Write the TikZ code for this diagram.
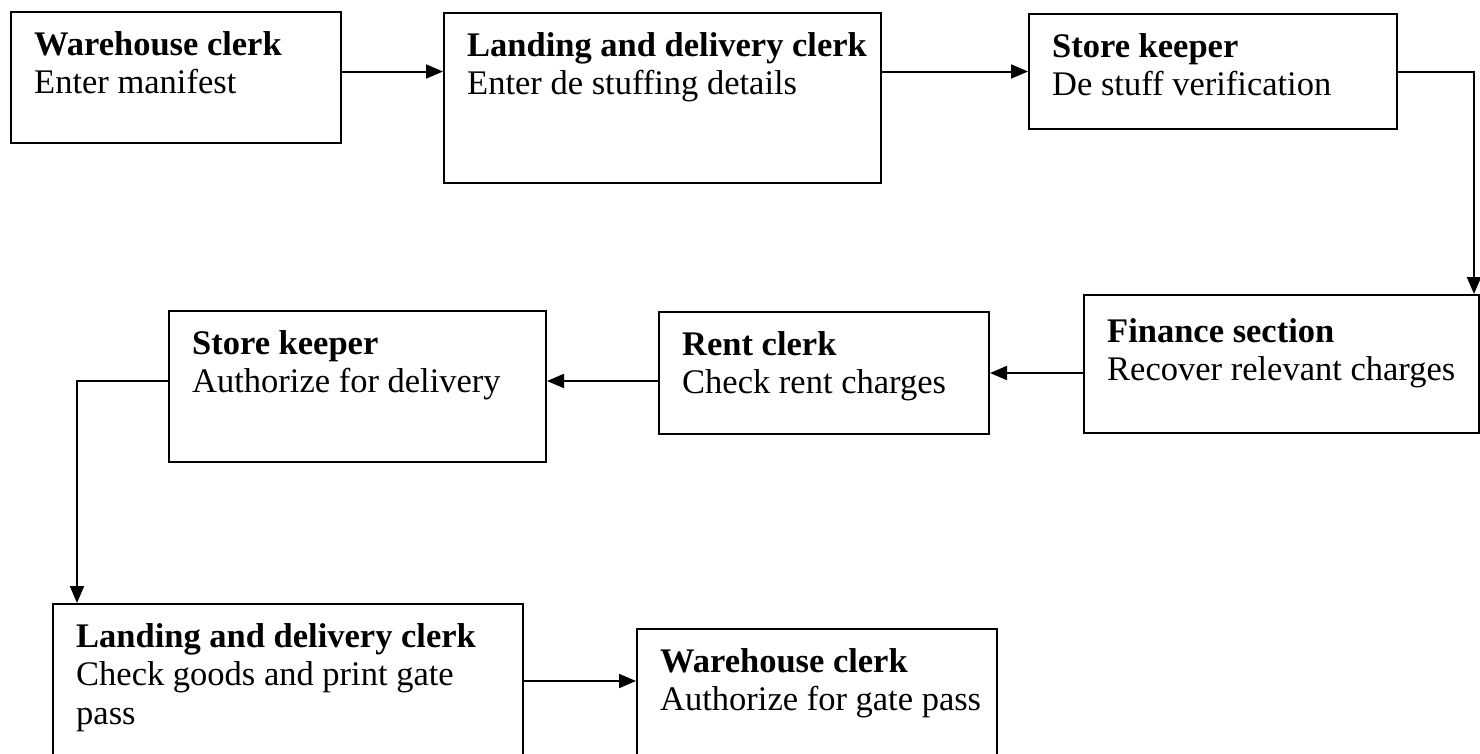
\documentclass[tikz,border=0pt]{standalone}
\usepackage{fontspec}
\setmainfont{Liberation Serif}
\usetikzlibrary{arrows.meta}
\tikzset{
stage/.style 2 args={
  draw,
  rectangle,
  line width=2pt,
  anchor=north west,
  minimum width=#1,
  minimum height=#2,
  inner sep=0pt
  },
role/.style={
  anchor=north west,
  align=left,
  inner sep=0pt,
  font=\fontsize{34.5}{38.5}\selectfont
  },
flow/.style={->,line width=2pt}
}

\begin{document}
\begin{tikzpicture}[x=1pt,y=-1pt,>={Triangle[length=17pt,width=14pt]}]
\useasboundingbox (0,0) rectangle (1480,753);
\node[stage={330}{131}] (wh1) at (10,11) {};
\node[stage={437}{170}] (ld1) at (443,12) {};
\node[stage={368}{115}] (sk1) at (1028,13) {};
\node[stage={395}{138}] (fin) at (1083,294) {};
\node[stage={330}{122}] (rent) at (658,311) {};
\node[stage={377}{151}] (sk2) at (168,310) {};
\node[stage={470}{170}] (ld2) at (52,603) {};
\node[stage={360}{140}] (wh2) at (636,628) {};

\node[role] (wh1t) at ([shift={(24,20)}]wh1.north west) {\textbf{Warehouse clerk}\\Enter manifest};
\node[role] (ld1t) at ([shift={(24,20)}]ld1.north west) {\textbf{Landing and delivery clerk}\\Enter de stuffing details};
\node[role] (sk1t) at ([shift={(24,20)}]sk1.north west) {\textbf{Store keeper}\\De stuff verification};
\node[role] (fint) at ([shift={(24,24)}]fin.north west) {\textbf{Finance section}\\Recover relevant charges};
\node[role] (rentt) at ([shift={(24,20)}]rent.north west) {\textbf{Rent clerk}\\Check rent charges};
\node[role] (sk2t) at ([shift={(24,20)}]sk2.north west) {\textbf{Store keeper}\\Authorize for delivery};
\node[role] (ld2t) at ([shift={(24,20)}]ld2.north west) {\textbf{Landing and delivery clerk}\\Check goods and print gate\\pass};
\node[role] (wh2t) at ([shift={(24,20)}]wh2.north west) {\textbf{Warehouse clerk}\\Authorize for gate pass};

\coordinate (r5) at ([yshift=-8pt]rent.west);
\coordinate (l7) at ([yshift=8pt]ld2.east);
\draw[flow] (sk1.west -| wh1.east) -- (sk1.west -| ld1.west);
\draw[flow] (sk1.west -| ld1.east) -- (sk1.west);
\draw[flow] (sk1.east) -| ([xshift=-6pt]fin.north east);
\draw[flow] (fin.west |- rent.east) -- (rent.east);
\draw[flow] (r5) -- (r5 -| sk2.east);
\draw[flow] (r5 -| sk2.west) -| ([xshift=25pt]ld2.north west);
\draw[flow] (l7) -- (l7 -| wh2.west);
\end{tikzpicture}
\end{document}
